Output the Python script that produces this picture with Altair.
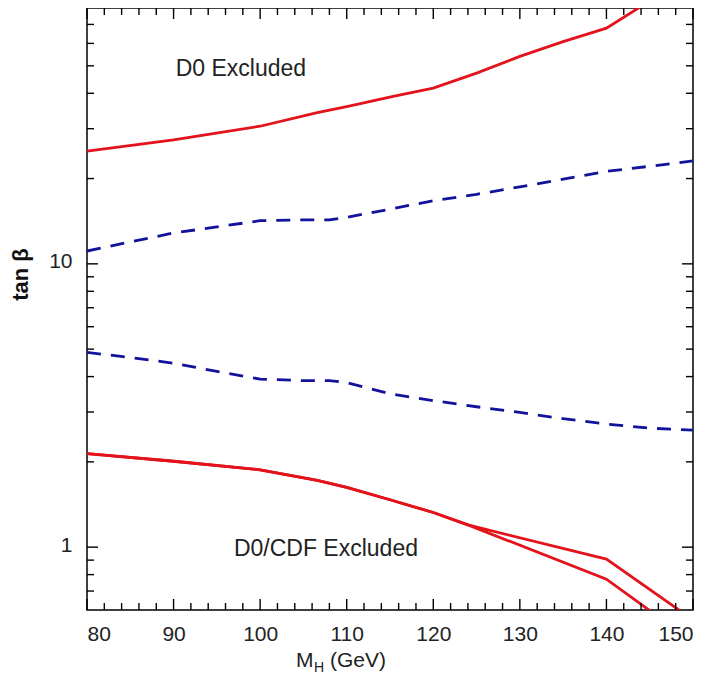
import altair as alt
import pandas as pd

# ---------------- data ----------------
mh_d0_upper = [80, 90, 100, 106.6, 110, 115.5, 120, 125, 130, 135, 140, 145]
tb_d0_upper = [25.0, 27.4, 30.6, 34.2, 35.9, 39.1, 41.7, 47.1, 54.0, 60.9, 67.9, 84.7]

mh_low_common = [80, 90, 100, 106.6, 110, 115, 120, 124]
tb_low_common = [2.14, 2.01, 1.875, 1.72, 1.625, 1.47, 1.325, 1.198]
mh_low_branch_a = [140, 150]
tb_low_branch_a = [0.907, 0.554]
mh_low_branch_b = [140, 150]
tb_low_branch_b = [0.771, 0.463]

mh_blue = [80, 85, 90, 95, 100, 105, 108, 110, 115, 120, 125, 130, 135, 140, 145, 150]
tb_blue_upper = [11.1, 11.95, 12.85, 13.5, 14.2, 14.3, 14.3, 14.6, 15.6, 16.7, 17.6, 18.7, 19.9, 21.2, 22.1, 23.1]
tb_blue_lower = [4.87, 4.67, 4.46, 4.17, 3.92, 3.87, 3.87, 3.81, 3.48, 3.29, 3.13, 2.99, 2.84, 2.72, 2.63, 2.59]

x_major = [80, 90, 100, 110, 120, 130, 140, 150]
x_minor = [v for v in range(82, 150, 2) if v % 10 != 0]
y_major = [1, 10]
y_minor = [0.7, 0.8, 0.9, 2, 3, 4, 5, 6, 7, 8, 9, 20, 30, 40, 50, 60, 70]

ann_text = ["D0 Excluded", "D0/CDF Excluded"]
ann_mh = [97.77, 107.6]
ann_tb = [46.1, 0.932]

# ---------------- styling ----------------
W, H = 606, 602
RED = "#e3121b"
BLUE = "#12129c"
FONT = "Liberation Sans"
TXT = "#222222"
MAJ, MIN = 11, 7

xscale = alt.Scale(domain=[80, 150], nice=False, zero=False)
yscale = alt.Scale(type="log", domain=[0.6, 80], nice=False)

xaxis = alt.Axis(values=x_major, format="d", title=None, ticks=False, tickSize=0,
                 domain=False, grid=False, labelFontSize=21, labelPadding=13,
                 labelColor=TXT, labelFont=FONT)
yaxis = alt.Axis(values=y_major, format="d", title="tan β", ticks=False, tickSize=0,
                 domain=False, grid=False, labelFontSize=21, labelPadding=15,
                 labelOffset=-2, labelColor=TXT, labelFont=FONT,
                 titleFont=FONT, titleFontSize=22, titleFontWeight="bold",
                 titleColor="#111111", titleX=-60, titleY=266, titleAngle=270,
                 titleBaseline="alphabetic", titleAlign="center")

X = alt.X("mh:Q", scale=xscale, axis=xaxis)
Y = alt.Y("tb:Q", scale=yscale, axis=yaxis)


def curve(name, xs, ys):
    return pd.DataFrame({"mh": xs, "tb": ys, "curve": name})


df_red = pd.concat([
    curve("d0_upper", mh_d0_upper, tb_d0_upper),
    curve("low_a", mh_low_common + mh_low_branch_a, tb_low_common + tb_low_branch_a),
    curve("low_b", mh_low_common + mh_low_branch_b, tb_low_common + tb_low_branch_b),
])
df_blue = pd.concat([
    curve("blue_upper", mh_blue, tb_blue_upper),
    curve("blue_lower", mh_blue, tb_blue_lower),
])

red = alt.Chart(df_red).mark_line(color=RED, strokeWidth=2.8, clip=True).encode(
    x=X, y=Y, detail="curve:N")
blue = alt.Chart(df_blue).mark_line(color=BLUE, strokeWidth=2.8, strokeDash=[14, 10],
                                    clip=True).encode(x=X, y=Y, detail="curve:N")

# ticks (inward, on all four sides)
dfx_maj = pd.DataFrame({"mh": x_major})
dfx_min = pd.DataFrame({"mh": x_minor})
dfy_maj = pd.DataFrame({"tb": y_major})
dfy_min = pd.DataFrame({"tb": y_minor})

tick_layers = []
for dfx, ln in [(dfx_maj, MAJ), (dfx_min, MIN)]:
    tick_layers.append(alt.Chart(dfx).mark_rule(color="black", strokeWidth=1.4).encode(
        x=X, y=alt.value(H), y2=alt.value(H - ln)))
    tick_layers.append(alt.Chart(dfx).mark_rule(color="black", strokeWidth=1.4).encode(
        x=X, y=alt.value(0), y2=alt.value(ln)))
for dfy, ln in [(dfy_maj, MAJ), (dfy_min, MIN)]:
    tick_layers.append(alt.Chart(dfy).mark_rule(color="black", strokeWidth=1.4).encode(
        y=Y, x=alt.value(0), x2=alt.value(ln)))
    tick_layers.append(alt.Chart(dfy).mark_rule(color="black", strokeWidth=1.4).encode(
        y=Y, x=alt.value(W), x2=alt.value(W - ln)))

ann = alt.Chart(pd.DataFrame({"label": ann_text, "mh": ann_mh, "tb": ann_tb})).mark_text(
    align="center", baseline="alphabetic", fontSize=23, font=FONT, color=TXT
).encode(x=X, y=Y, text="label:N")

# x-axis title with subscript: M_H (GeV)
def piece(txt, px, py, size):
    return alt.Chart(pd.DataFrame({"t": [txt]})).mark_text(
        align="left", baseline="alphabetic", fontSize=size, font=FONT, color=TXT
    ).encode(x=alt.value(px), y=alt.value(py), text="t:N")

xtitle = [piece("M", 209, 659, 21), piece("H", 227, 664, 14), piece("(GeV)", 243, 659, 21)]

chart = alt.layer(red, blue, *tick_layers, ann, *xtitle).properties(
    width=W, height=H,
    autosize=alt.AutoSizeParams(type="none"),
    padding={"left": 79, "top": 0, "right": 10, "bottom": 67},
    background="white",
).configure_view(stroke="black", strokeWidth=1.5)

chart.save("out.html", embed_options={"renderer": "svg", "actions": False})
